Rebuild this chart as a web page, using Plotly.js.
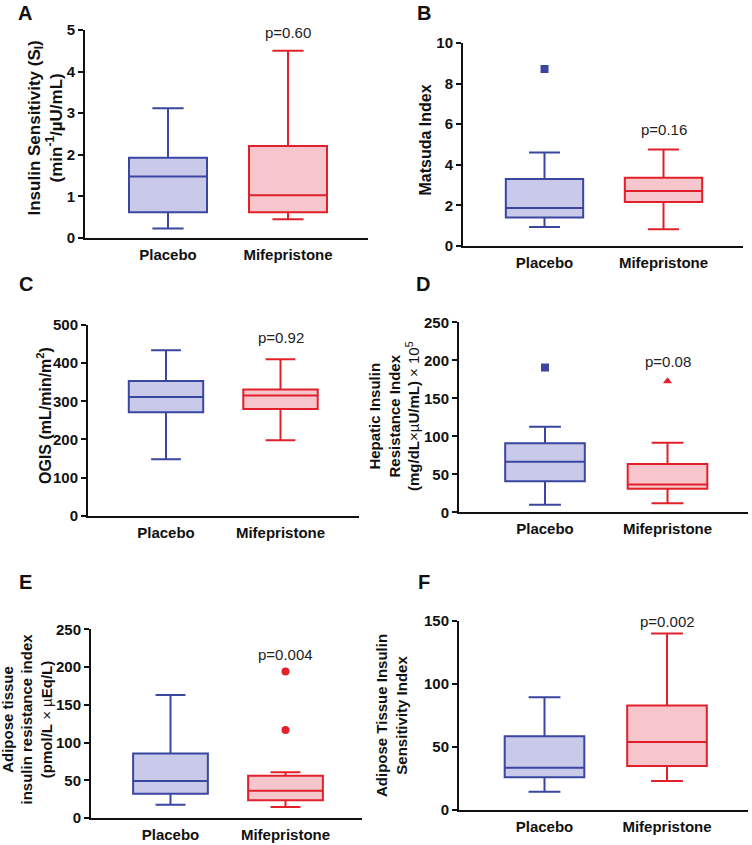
<!DOCTYPE html>
<html><head><meta charset="utf-8">
<script src="https://cdn.plot.ly/plotly-3.0.1.min.js"></script>
<style>body{margin:0;background:#fff}</style>
</head><body><div id="chart" style="width:752px;height:845px"></div>
<script>
// ---- data ----
const groups = ["Placebo", "Mifepristone"];
// five-number summaries: [lower whisker, Q1, median, Q3, upper whisker]
const placeboA = [0.23, 0.62, 1.48, 1.93, 3.12];
const mifeA    = [0.45, 0.62, 1.03, 2.21, 4.50];
const placeboB = [0.93, 1.40, 1.87, 3.30, 4.60];
const mifeB    = [0.82, 2.17, 2.71, 3.36, 4.75];
const placeboOutB = [8.72];
const mifeOutB = [];
const placeboC = [148, 271, 311, 353, 434];
const mifeC    = [198, 280, 315, 331, 410];
const placeboD = [10, 41, 66.5, 91, 112.5];
const mifeD    = [12, 31, 36.5, 63.5, 91.5];
const placeboOutD = [190.5];
const mifeOutD = [172.5];
const placeboE = [17.5, 32, 49, 85.5, 163];
const mifeE    = [14.5, 23.5, 36, 56, 60.5];
const placeboOutE = [];
const mifeOutE = [194, 116.5];
const placeboF = [14.5, 26, 33.5, 58.5, 89.5];
const mifeF    = [23, 35, 54, 83, 140];
const pLabels = ["p=0.60", "p=0.16", "p=0.92", "p=0.08", "p=0.004", "p=0.002"];
const pLabelY = [4.93, 5.75, 468, 199, 217, 149.6];
const panelLetters = ["A", "B", "C", "D", "E", "F"];
const yMax   = [5, 10, 500, 250, 250, 150];
const yDtick = [1, 2, 100, 50, 50, 50];
const yTitles = [
  "<b>Insulin Sensitivity (S<sub>I</sub>)</b><br><b>(min<sup>-1</sup>/µU/mL)</b>",
  "<b>Matsuda Index</b>",
  "<b>OGIS (mL/min/m<sup>2</sup>)</b>",
  "<b>Hepatic Insulin</b><br><b>Resistance Index</b><br><b>(mg/dL</b>×µ<b>U/mL)</b> × 10<sup>5</sup>",
  "<b>Adipose tissue</b><br><b>insulin resistance index</b><br><b>(pmol/L</b> × µ<b>Eq/L)</b>",
  "<b>Adipose Tissue Insulin</b><br><b>Sensitivity Index</b>"
];

// ---- layout geometry (pixels) ----
const W = 752, H = 845;
const geom = [
  {l:85,  r:368, b:238,   t:30,    c0:168,   c1:288,   lx:25,  ly:13,  tx:45.5, ty:128, ts:17},
  {l:463, r:743, b:246,   t:43,    c0:544.5, c1:663.5, lx:424, ly:13,  tx:425.5,ty:140, ts:16},
  {l:88,  r:359, b:515.7, t:325,   c0:166,   c1:280.5, lx:26,  ly:284, tx:44,   ty:416, ts:16},
  {l:459, r:748, b:512.3, t:322.3, c0:545,   c1:667.5, lx:423, ly:284, tx:394,  ty:416, ts:15},
  {l:91,  r:362, b:818,   t:629.3, c0:170.5, c1:285.5, lx:25,  ly:582, tx:26.5, ty:719, ts:15},
  {l:459, r:748, b:810,   t:621,   c0:544.5, c1:667,   lx:424, ly:582, tx:391,  ty:716, ts:15}
];

const blueLine = "#3a46a0", blueFill = "#c9c9ea";
const redLine = "#e2202b", redFill = "#f7c6cc";
const FONT = "Arial, 'Liberation Sans', sans-serif";

const placeboSets = [placeboA, placeboB, placeboC, placeboD, placeboE, placeboF];
const mifeSets = [mifeA, mifeB, mifeC, mifeD, mifeE, mifeF];
const placeboOuts = [[], placeboOutB, [], placeboOutD, placeboOutE, []];
const mifeOuts = [[], mifeOutB, [], mifeOutD, mifeOutE, []];
const placeboSym = "square";
const mifeSym = ["circle", "circle", "circle", "triangle-up", "circle", "circle"];

const traces = [];
const layout = {
  width: W, height: H, margin: {l:0, r:0, t:0, b:0},
  paper_bgcolor: "#fff", plot_bgcolor: "rgba(0,0,0,0)",
  showlegend: false, hovermode: false,
  font: {family: FONT, color: "#111"},
  annotations: []
};

function boxTrace(name, s, xa, ya, line, fill) {
  return {
    type: "box", x: [name], lowerfence: [s[0]], q1: [s[1]], median: [s[2]], q3: [s[3]], upperfence: [s[4]],
    xaxis: xa, yaxis: ya, width: 0.65, whiskerwidth: 0.4, boxpoints: false,
    line: {color: line, width: 2}, fillcolor: fill
  };
}

geom.forEach((g, i) => {
  const n = i + 1;
  const xa = "x" + (n === 1 ? "" : n), ya = "y" + (n === 1 ? "" : n);
  const xk = "xaxis" + (n === 1 ? "" : n), yk = "yaxis" + (n === 1 ? "" : n);
  const d = g.c1 - g.c0;
  layout[xk] = {
    domain: [g.l / W, g.r / W], anchor: ya, type: "category", categoryarray: groups,
    range: [-(g.c0 - g.l) / d, 1 + (g.r - g.c1) / d],
    showline: true, linecolor: "#111", linewidth: 2, ticks: "", showgrid: false, zeroline: false,
    ticklabelstandoff: 2,
    tickfont: {family: FONT, size: 15, weight: 700, color: "#111"}, fixedrange: true
  };
  layout[yk] = {
    domain: [(H - g.b) / H, (H - g.t) / H], anchor: xa, range: [0, yMax[i]], dtick: yDtick[i], tick0: 0,
    showline: true, linecolor: "#111", linewidth: 2, ticks: "outside", ticklen: 5, tickwidth: 2, tickcolor: "#111",
    showgrid: false, zeroline: false,
    tickfont: {family: FONT, size: 15, weight: 700, color: "#111"},
    fixedrange: true
  };
  traces.push(boxTrace(groups[0], placeboSets[i], xa, ya, blueLine, blueFill));
  traces.push(boxTrace(groups[1], mifeSets[i], xa, ya, redLine, redFill));
  if (placeboOuts[i].length) traces.push({
    type: "scatter", mode: "markers", x: placeboOuts[i].map(() => groups[0]), y: placeboOuts[i],
    xaxis: xa, yaxis: ya, marker: {symbol: placeboSym, size: 8, color: blueLine}
  });
  if (mifeOuts[i].length) traces.push({
    type: "scatter", mode: "markers", x: mifeOuts[i].map(() => groups[1]), y: mifeOuts[i],
    xaxis: xa, yaxis: ya, marker: {symbol: mifeSym[i], size: 8, color: redLine}
  });
  layout.annotations.push({
    xref: xa, yref: ya, x: groups[1], y: pLabelY[i], text: pLabels[i], showarrow: false,
    xanchor: "center", yanchor: "middle", font: {family: FONT, size: 15, color: "#222"}
  });
  layout.annotations.push({
    xref: "paper", yref: "paper", x: g.lx / W, y: 1 - g.ly / H, text: panelLetters[i], showarrow: false,
    xanchor: "center", yanchor: "middle", font: {family: FONT, size: 20, weight: 700, color: "#111"}
  });
  layout.annotations.push({
    xref: "paper", yref: "paper", x: g.tx / W, y: 1 - g.ty / H, text: yTitles[i], showarrow: false,
    textangle: -90, xanchor: "center", yanchor: "middle",
    font: {family: FONT, size: g.ts, color: "#111"}
  });
});

Plotly.newPlot("chart", traces, layout, {staticPlot: true, displayModeBar: false});
</script>
</body></html>
